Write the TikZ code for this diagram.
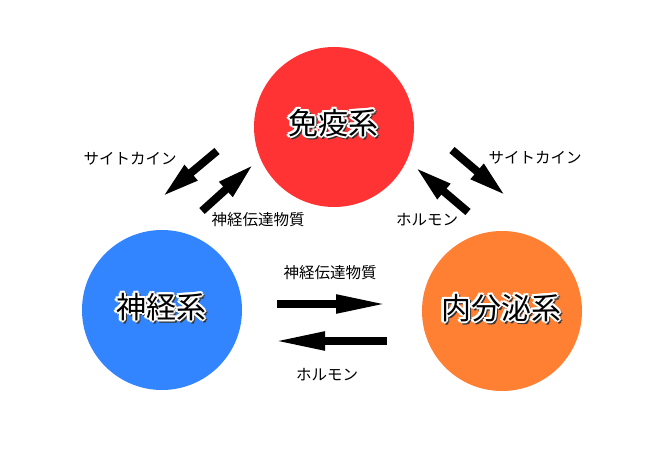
\documentclass[tikz,border=0pt]{standalone}
\usepackage{fontspec}
\newfontfamily\jp{Noto Sans CJK JP}
\usetikzlibrary{arrows.meta}
\definecolor{cred}{RGB}{255,51,51}
\definecolor{cblue}{RGB}{51,133,255}
\definecolor{corange}{RGB}{255,127,51}
\tikzset{
  sys/.style={circle,minimum size=160pt,inner sep=0pt,draw=none},
  lbl/.style={font=\jp\fontsize{15.5}{15.5}\selectfont,text=black,inner sep=0pt},
  bigtxt/.style={font=\jp\fontsize{30}{30}\selectfont,inner sep=0pt},
  barrow/.style={line width=8pt,-{Triangle[length=38pt,width=18pt]}},
  harrow/.style={line width=8pt,-{Triangle[length=52pt,width=17pt]}},
}
\newcommand\halotext[2]{%
  \foreach \a in {-45,0,45,90}{
    \node[bigtxt,text=black!80] at ([shift={(\a:2.2)},xshift=1.3pt,yshift=-1.3pt]#1) {#2};
  }
  \foreach \a in {0,45,...,315}{
    \node[bigtxt,text=white] at ([shift={(\a:2.2)}]#1) {#2};
  }
  \node[bigtxt,text=black] at (#1) {#2};
}
\begin{document}
\begin{tikzpicture}[x=1pt,y=-1pt]
\useasboundingbox[fill=white] (0,0) rectangle (666,449);
\node[sys,fill=cred] (imm) at (334,127) {};
\node[sys,fill=cblue] (neu) at (162,310) {};
\node[sys,fill=corange] (end) at (502,311) {};
\coordinate (immt) at (333,123);
\coordinate (neut) at (161,307);
\coordinate (endt) at (501,308);
\halotext{immt}{免疫系}
\halotext{neut}{神経系}
\halotext{endt}{内分泌系}
% top-left pair
\coordinate (a1s) at (217,151);
\coordinate (a1e) at (162,197);
\coordinate (a2s) at (202,211);
\coordinate (a2e) at (254,164);
\draw[barrow] (a1s) -- (a1e);
\draw[barrow] (a2s) -- (a2e);
% top-right pair
\coordinate (b1s) at (452,150);
\coordinate (b1e) at (506,196);
\coordinate (b2s) at (468,212);
\coordinate (b2e) at (415,167);
\draw[barrow] (b1s) -- (b1e);
\draw[barrow] (b2s) -- (b2e);
% bottom pair
\coordinate (c1s) at (277,304);
\coordinate (c1e) at (388,304);
\coordinate (c2s) at (387,341);
\coordinate (c2e) at (273,341);
\draw[harrow] (c1s) -- (c1e);
\draw[harrow] (c2s) -- (c2e);
% labels
\node[lbl] (l1) at (130,159) {サイトカイン};
\node[lbl] (l2) at (258,220) {神経伝達物質};
\node[lbl] (l3) at (535,158) {サイトカイン};
\node[lbl] (l4) at (427,220) {ホルモン};
\node[lbl] (l5) at (330,273) {神経伝達物質};
\node[lbl] (l6) at (327,375) {ホルモン};
\end{tikzpicture}
\end{document}
